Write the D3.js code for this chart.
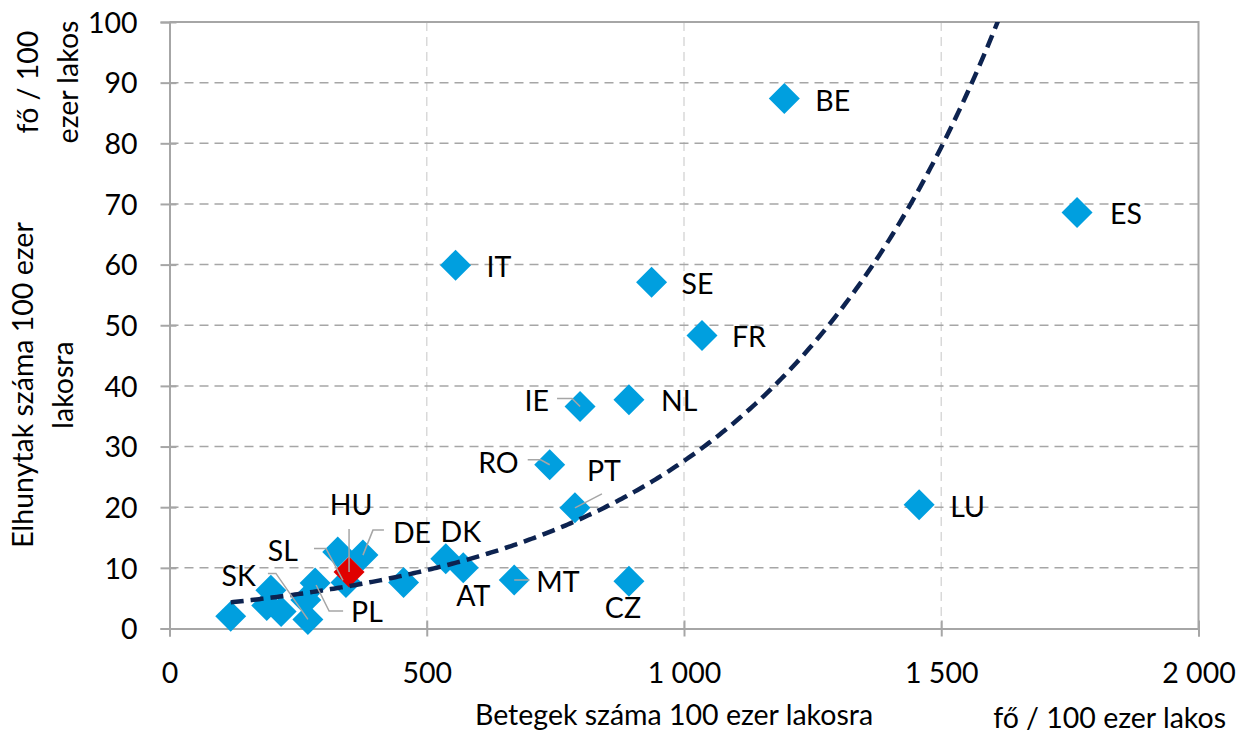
<!DOCTYPE html>
<html>
<head>
<meta charset="utf-8">
<script src="https://cdn.jsdelivr.net/npm/d3@7"></script>
<style>
  body { margin: 0; background: #fff; }
  text { font-family: Lato, "Open Sans", sans-serif; fill: #000; }
</style>
</head>
<body>
<div id="chart"></div>
<script>
// Data (cases and deaths per 100 000 inhabitants)
var countries = ["BE", "ES", "IT", "SE", "FR", "NL", "IE", "RO", "PT", "LU", "CZ", "MT", "AT", "DK",
                 "DE", "SL", "SK", "PL", "", "", "", "", "", "", "", "HU"];
var cases =  [1195, 1764, 556, 937, 1035, 893, 798, 739, 788, 1457, 893, 670, 571, 537,
              376, 343, 269, 283, 327, 455, 119, 197, 189, 217, 265, 349];
var deaths = [87.4, 68.6, 59.9, 57.1, 48.3, 37.7, 36.6, 27.0, 19.9, 20.4, 7.8, 8.0, 10.0, 11.5,
              12.1, 7.6, 1.5, 7.5, 12.6, 7.6, 2.0, 6.3, 3.8, 2.8, 4.7, 9.3];
var highlight = "HU";

var xTicks = [0, 500, 1000, 1500, 2000];
var yTicks = [0, 10, 20, 30, 40, 50, 60, 70, 80, 90, 100];

// exponential trendline y = a * e^(b x)
var trendA = 3.35, trendB = 0.00211;

// label placement (pixels, relative to marker) and leader lines
var labelLayout = {
  BE: { dx: 31, dy: 2, anchor: "start" },
  ES: { dx: 33, dy: 1, anchor: "start" },
  IT: { dx: 31, dy: 2, anchor: "start" },
  SE: { dx: 30, dy: 2, anchor: "start" },
  FR: { dx: 30, dy: 1, anchor: "start" },
  NL: { dx: 32, dy: 1, anchor: "start" },
  IE: { dx: -31, dy: -6, anchor: "end", leader: [[-23, -8], [-8, -8], [0, 0]] },
  RO: { dx: -31, dy: -2, anchor: "end", leader: [[-22, -5], [-9, -5], [0, 0]] },
  PT: { dx: 12, dy: -37, anchor: "start", leader: [[27, -14], [0, 0]] },
  LU: { dx: 31, dy: 2, anchor: "start" },
  CZ: { dx: -6, dy: 27, anchor: "middle" },
  MT: { dx: 22, dy: 2, anchor: "start", leader: [[0, 0], [15, 0]] },
  AT: { dx: 10, dy: 28, anchor: "middle" },
  DK: { dx: 15, dy: -27, anchor: "middle" },
  DE: { dx: 30, dy: -22, anchor: "start", leader: [[21, -25], [10, -25], [0, 0]] },
  HU: { dx: 2, dy: -67, anchor: "middle", leader: [[0, -43], [0, 0]] },
  SL: { dx: -48, dy: -32, anchor: "end", leader: [[-32, -34], [-20, -34], [-3, -2]] },
  SK: { dx: -52, dy: -44, anchor: "end", leader: [[-40, -46], [-32, -46], [0, 0]] },
  PL: { dx: 36, dy: 29, anchor: "start", leader: [[1, 2], [14, 28], [28, 28]] }
};

var fontSize = "28.5px";

var data = countries.map(function(c, i) {
  return { name: c, x: cases[i], y: deaths[i] };
});

var width = 1245, height = 733;
var plot = { left: 169.5, right: 1198.5, top: 22, bottom: 628.5 };

var svg = d3.select("#chart").append("svg")
    .attr("width", width)
    .attr("height", height);

var x = d3.scaleLinear().domain([0, 2000]).range([plot.left, plot.right]);
var y = d3.scaleLinear().domain([0, 100]).range([plot.bottom, plot.top]);

// gridlines
svg.append("g").selectAll("line")
    .data(xTicks.slice(1, -1))
  .enter().append("line")
    .attr("x1", function(d) { return x(d); })
    .attr("x2", function(d) { return x(d); })
    .attr("y1", plot.top)
    .attr("y2", plot.bottom)
    .attr("stroke", "#d9d9d9")
    .attr("stroke-width", 1.5)
    .attr("stroke-dasharray", "9,6");

svg.append("g").selectAll("line")
    .data(yTicks.slice(1, -1))
  .enter().append("line")
    .attr("x1", plot.left)
    .attr("x2", plot.right)
    .attr("y1", function(d) { return y(d); })
    .attr("y2", function(d) { return y(d); })
    .attr("stroke", "#a6a6a6")
    .attr("stroke-width", 1.5)
    .attr("stroke-dasharray", "9,6");

// plot border (top and right)
svg.append("path")
    .attr("d", "M" + plot.left + "," + plot.top + "H" + plot.right + "V" + plot.bottom)
    .attr("fill", "none")
    .attr("stroke", "#a6a6a6")
    .attr("stroke-width", 2);

// axes
var xAxis = d3.axisBottom(x)
    .tickValues(xTicks)
    .tickSize(8)
    .tickPadding(26)
    .tickFormat(function(d) { return d3.format(",")(d).replace(/,/g, " "); });

var gx = svg.append("g")
    .attr("transform", "translate(0," + plot.bottom + ")")
    .call(xAxis);

var yAxis = d3.axisLeft(y)
    .tickValues(yTicks)
    .tickSize(9)
    .tickPadding(23);

var gy = svg.append("g")
    .attr("transform", "translate(" + plot.left + ",0)")
    .call(yAxis);

[gx, gy].forEach(function(g) {
  g.select(".domain").attr("stroke", "#a6a6a6").attr("stroke-width", 2);
  g.selectAll(".tick line").attr("stroke", "#a6a6a6").attr("stroke-width", 2);
  g.selectAll(".tick text")
      .style("font-family", "Lato, 'Open Sans', sans-serif")
      .style("font-size", fontSize)
      .attr("fill", "#000");
});
gx.selectAll(".tick line").attr("y1", -8);
gy.selectAll(".tick line").attr("x1", 7);
gy.selectAll(".tick text").attr("dy", "0.36em");

// axis titles
svg.append("text")
    .attr("x", 674)
    .attr("y", 725)
    .style("text-anchor", "middle")
    .style("font-size", fontSize)
    .text("Betegek száma 100 ezer lakosra");

svg.append("text")
    .attr("x", 1226)
    .attr("y", 728)
    .style("text-anchor", "end")
    .style("font-size", fontSize)
    .text("fő / 100 ezer lakos");

var yTitle = svg.append("text")
    .attr("transform", "translate(33,385) rotate(-90)")
    .style("text-anchor", "middle")
    .style("font-size", fontSize);
yTitle.append("tspan").attr("x", 0).attr("y", 0).text("Elhunytak száma 100 ezer");
yTitle.append("tspan").attr("x", 0).attr("y", 40).text("lakosra");

var yUnit = svg.append("text")
    .attr("transform", "translate(38,82) rotate(-90)")
    .style("text-anchor", "middle")
    .style("font-size", fontSize);
yUnit.append("tspan").attr("x", 0).attr("y", 0).text("fő / 100");
yUnit.append("tspan").attr("x", 0).attr("y", 40).text("ezer lakos");

// markers (highlighted country drawn last)
var diamond = d3.symbol().type(d3.symbolSquare).size(480);
var ordered = data.filter(function(d) { return d.name !== highlight; })
    .concat(data.filter(function(d) { return d.name === highlight; }));

svg.append("g").selectAll(".dot")
    .data(ordered)
  .enter().append("path")
    .attr("class", "dot")
    .attr("d", diamond)
    .attr("transform", function(d) { return "translate(" + x(d.x) + "," + y(d.y) + ") rotate(45)"; })
    .attr("fill", function(d) { return d.name === highlight ? "#e00000" : "#009fdf"; });

// exponential trendline over data range, clipped to the plot area
svg.append("clipPath").attr("id", "plotClip")
  .append("rect")
    .attr("x", plot.left)
    .attr("y", plot.top)
    .attr("width", plot.right - plot.left)
    .attr("height", plot.bottom - plot.top);

var xExt = d3.extent(data, function(d) { return d.x; });
var trendXs = d3.range(xExt[0], xExt[1], 5).concat([xExt[1]]);
var trendLine = d3.line()
    .x(function(v) { return x(v); })
    .y(function(v) { return y(trendA * Math.exp(trendB * v)); });

svg.append("path")
    .datum(trendXs)
    .attr("clip-path", "url(#plotClip)")
    .attr("d", trendLine)
    .attr("fill", "none")
    .attr("stroke", "#0d2350")
    .attr("stroke-width", 4.5)
    .attr("stroke-dasharray", "13,7");

// leader lines
var labeled = data.filter(function(d) { return labelLayout[d.name]; });

svg.append("g").selectAll("polyline")
    .data(labeled.filter(function(d) { return labelLayout[d.name].leader; }))
  .enter().append("polyline")
    .attr("points", function(d) {
      var cx = x(d.x), cy = y(d.y);
      return labelLayout[d.name].leader.map(function(p) { return (cx + p[0]) + "," + (cy + p[1]); }).join(" ");
    })
    .attr("fill", "none")
    .attr("stroke", "#a6a6a6")
    .attr("stroke-width", 1.5);

// labels
svg.append("g").selectAll(".label")
    .data(labeled)
  .enter().append("text")
    .attr("class", "label")
    .attr("x", function(d) { return x(d.x) + labelLayout[d.name].dx; })
    .attr("y", function(d) { return y(d.y) + labelLayout[d.name].dy; })
    .attr("dy", "0.36em")
    .style("text-anchor", function(d) { return labelLayout[d.name].anchor; })
    .style("font-size", fontSize)
    .text(function(d) { return d.name; });
</script>
</body>
</html>
